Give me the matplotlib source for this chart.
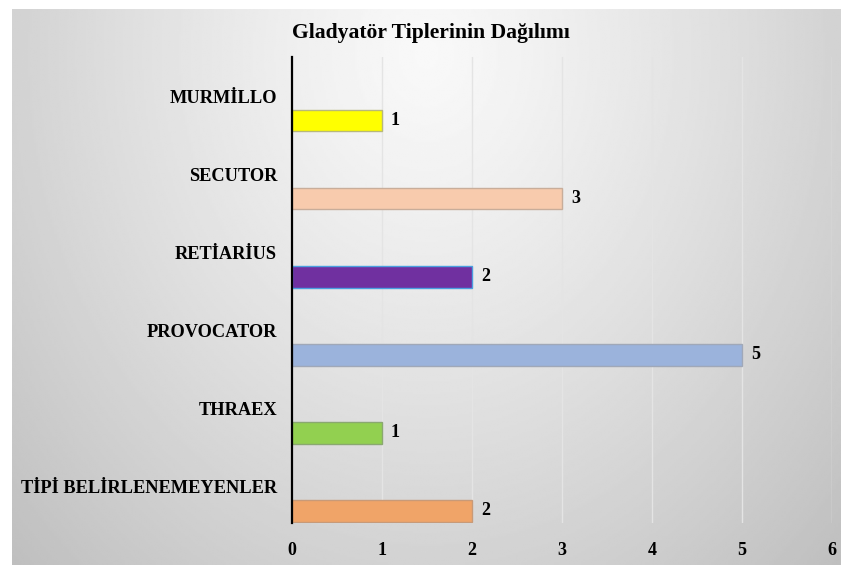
import numpy as np
import matplotlib
matplotlib.use("Agg")
import matplotlib.pyplot as plt

# data (top to bottom as in the picture)
categories = ["MURMİLLO", "SECUTOR", "RETİARİUS", "PROVOCATOR", "THRAEX", "TİPİ BELİRLENEMEYENLER"]
counts = [1, 3, 2, 5, 1, 2]
colors = ["#ffff00", "#f8cbad", "#7030a0", "#9bb3dc", "#92d050", "#f0a468"]
edges = ["#b8b87a", "#c8ad9a", "#4a9fe0", "#a0a8b8", "#8aa870", "#c89a78"]
x_ticks = [0, 1, 2, 3, 4, 5, 6]
title = "Gladyatör Tiplerinin Dağılımı"

plt.rcParams['font.family'] = ['Liberation Serif', 'DejaVu Serif']
plt.rcParams['font.weight'] = 'bold'

W, H = 841, 565
fig = plt.figure(figsize=(W / 100, H / 100), dpi=100)
fig.patch.set_facecolor("white")

# gradient panel behind the chart
bg = fig.add_axes([12 / W, 0, 1 - 12 / W, 1 - 9 / H])
gx, gy = np.meshgrid(np.linspace(-1, 1, 400), np.linspace(0, 1, 300))
r = np.sqrt((gx / 1.0) ** 2 + ((gy - 0.08) / 0.92) ** 2)
v = np.clip(0.975 - 0.15 * r ** 1.2, 0, 1)
bg.imshow(v, cmap="gray", vmin=0, vmax=1, aspect="auto", origin="upper",
          extent=[0, 1, 0, 1], interpolation="bilinear")
bg.axis("off")
bg.set_zorder(0)

ax = fig.add_axes([292 / W, 1 - 523 / H, 540 / W, (523 - 57) / H])
ax.set_zorder(1)
ax.patch.set_alpha(0)

n = len(categories)
ypos = np.arange(n)[::-1]
ax.barh(ypos, counts, height=0.27, color=colors, edgecolor=edges, linewidth=1.0, zorder=3)

for y, c in zip(ypos, counts):
    ax.text(c + 0.1, y, str(c), va="center", ha="left", fontsize=13, fontweight="bold")

for y, lab in zip(ypos, categories):
    ax.text(-15 / 90, y + 0.29, lab, va="center", ha="right", fontsize=13.2, fontweight="bold")

ax.set_xlim(0, 6)
ax.set_ylim(-0.154, 5.82)
ax.set_xticks(x_ticks)
ax.set_xticklabels([str(t) for t in x_ticks], fontsize=13, fontweight="bold")
ax.tick_params(axis="x", length=0, pad=14)
ax.set_yticks([])
ax.grid(axis="x", color="#e4e4e4", linewidth=1.0, zorder=0)
for s in ["top", "right", "bottom"]:
    ax.spines[s].set_visible(False)
ax.spines["left"].set_color("black")
ax.spines["left"].set_linewidth(1.6)
ax.spines["left"].set_zorder(4)

fig.text(431 / W, 1 - 33 / H, title, ha="center", va="center", fontsize=15.6, fontweight="bold")

fig.savefig("out.png", dpi=100)
